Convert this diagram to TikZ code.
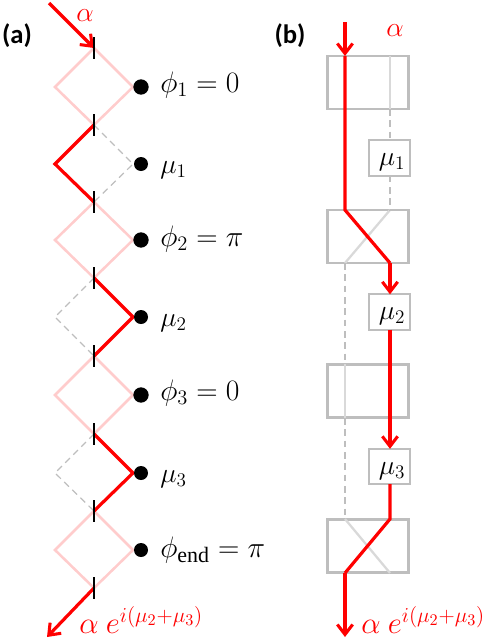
\documentclass[tikz,border=0pt]{standalone}
\usepackage{fontspec}
\setmainfont{Carlito}
\setmathrm{Liberation Serif}
\usetikzlibrary{arrows.meta}
\definecolor{beam}{RGB}{255,0,0}
\definecolor{pale}{RGB}{255,204,204}
\definecolor{dashgrey}{RGB}{190,190,190}
\definecolor{boxgrey}{RGB}{190,190,190}
\definecolor{lightpath}{RGB}{217,217,217}
\tikzset{
  redbeam/.style={draw=beam,line width=2.4pt,line join=miter},
  redarrow/.style={redbeam,-{Straight Barb[length=7.5pt,width=11.5pt,line width=2.3pt]}},
  palebeam/.style={draw=pale,line width=1.9pt},
  idle/.style={draw=dashgrey,line width=0.9pt,dash pattern=on 5pt off 3.5pt},
  tick/.style={draw=black,line width=0.9pt},
  dot/.style={circle,fill=black,inner sep=0pt,minimum size=11.5pt},
  lab/.style={anchor=west,inner sep=0pt,font=\fontsize{22}{25}\selectfont},
  philab/.style={lab,scale=1.07},
  sublab/.style={anchor=center,inner sep=0pt,font=\fontsize{22}{25}\selectfont},
  redlab/.style={text=beam,inner sep=0pt,font=\fontsize{22}{25}\selectfont},
  explab/.style={redlab,anchor=west,scale=1.11},
  panel/.style={anchor=center,inner sep=0pt,font=\bfseries\fontsize{20}{24}\selectfont},
  bigbox/.style={draw=boxgrey,line width=1.9pt,minimum width=61pt,minimum height=39.5pt,inner sep=0pt,outer sep=0pt},
  smallbox/.style={draw=boxgrey,line width=1.5pt,fill=white,minimum width=30.5pt,minimum height=26.5pt,inner sep=0pt,outer sep=0pt},
  crossing/.style={draw=lightpath,line width=1.7pt},
}
\begin{document}
\begin{tikzpicture}[x=0.75pt,y=-0.75pt]
\useasboundingbox (0,0) rectangle (485,643);
\node[panel] (pa) at (17,36) {(a)};
\node[panel] (pb) at (290,36) {(b)};
\coordinate (in) at (49,3);
\coordinate (out) at (47,637);
\foreach \n/\y in {1/48,2/125,3/202,4/278,5/356,6/434,7/511,8/588}{
  \coordinate (t\n) at (94,\y);
  \coordinate (ta\n) at (94,\y-11);
  \coordinate (tb\n) at (94,\y+11);
}
\foreach \n/\y in {1/87,2/164,3/240,4/317,5/395,6/473,7/550}{
  \coordinate (l\n) at (55,\y);
  \coordinate (r\n) at (133,\y);
}
\draw[palebeam] (t1)--(l1)--(t2)--(r1)--cycle;
\draw[palebeam] (t3)--(l3)--(t4)--(r3)--cycle;
\draw[palebeam] (t5)--(l5)--(t6)--(r5)--cycle;
\draw[palebeam] (t7)--(l7)--(t8)--(r7)--cycle;
\draw[idle] (t2)--(r2)--(t3);
\draw[idle] (t4)--(l4)--(t5);
\draw[idle] (t6)--(l6)--(t7);
\draw[redarrow] (in)--(t1);
\draw[redbeam] (t2)--(l2)--(t3);
\draw[redbeam] (t4)--(r4)--(t5);
\draw[redbeam] (t6)--(r6)--(t7);
\draw[redarrow] (t8)--(out);
\foreach \n in {1,...,8}{\draw[tick] (ta\n)--(tb\n);}
\node[dot] (d1) at (141,87) {};
\node[dot,minimum size=10.5pt] (d2) at (141,164) {};
\node[dot] (d3) at (141,240) {};
\node[dot,minimum size=10.5pt] (d4) at (141,317) {};
\node[dot] (d5) at (141,395) {};
\node[dot,minimum size=10.5pt] (d6) at (141,473) {};
\node[dot,minimum size=10.5pt] (d7) at (141,550) {};
\node[philab] (p1) at (160,85) {$\phi_1=0$};
\node[lab] (m1) at (160,170) {$\mu_1$};
\node[philab] (p2) at (160,239) {$\phi_2=\pi$};
\node[lab] (m2) at (160,323) {$\mu_2$};
\node[philab] (p3) at (160,393) {$\phi_3=0$};
\node[lab] (m3) at (160,479) {$\mu_3$};
\node[philab] (p4) at (160,550) {$\phi_{\mathrm{end}}=\pi$};
\node[redlab] (aa) at (85,16) {$\alpha$};
\node[explab] (ab) at (79,620) {$\alpha\ e^{i(\mu_2+\mu_3)}$};
\node[bigbox] (b1) at (368,82.5) {};
\node[bigbox] (b2) at (368,236.5) {};
\node[bigbox] (b3) at (368,391) {};
\node[bigbox] (b4) at (368,546) {};
\node[smallbox] (s1) at (389.5,158) {};
\node[smallbox] (s2) at (389.5,312) {};
\node[smallbox] (s3) at (389.5,466.5) {};
\node[sublab] (ml1) at (392,162) {$\mu_1$};
\node[sublab] (ml2) at (392,316) {$\mu_2$};
\node[sublab] (ml3) at (392,471) {$\mu_3$};
\coordinate (start) at (345,22);
\coordinate (finish) at (345,637);
\coordinate (b1lt) at (345,56);
\coordinate (b2lt) at (345,210);
\coordinate (b2lb) at (345,263);
\coordinate (b3lt) at (345,364);
\coordinate (b3lb) at (345,418);
\coordinate (b4lt) at (345,519);
\coordinate (b4lb) at (345,573);
\coordinate (b1rt) at (390,56);
\coordinate (b1rb) at (390,109);
\coordinate (b2rt) at (390,210);
\coordinate (b2rb) at (390,263);
\coordinate (b4rt) at (390,519);
\coordinate (b4rb) at (390,573);
\draw[crossing] (b1rt)--(b1rb);
\draw[crossing] (b2rt)--(b2lb);
\draw[crossing] (b3lt)--(b3lb);
\draw[crossing] (b4lt)--(b4rb);
\draw[idle] (b1rb)--(s1.north -| b1rb);
\draw[idle] (s1.south -| b2rt)--(b2rt);
\draw[idle] (b2lb)--(b3lt);
\draw[idle] (b3lb)--(b4lt);
\draw[redarrow] (start)--(b1lt);
\draw[redbeam] (b1lt)--(b2lt)--(b2rb);
\draw[redarrow] (b2rb)--(s2.north -| b2rb);
\draw[redarrow] (s2.south -| b2rb)--(s3.north -| b2rb);
\draw[redbeam] (s3.south -| b2rb)--(b4rt)--(b4lb);
\draw[redarrow] (b4lb)--(finish);
\node[redlab] (ba) at (395,31) {$\alpha$};
\node[explab] (bb) at (361,620) {$\alpha\ e^{i(\mu_2+\mu_3)}$};
\end{tikzpicture}
\end{document}
